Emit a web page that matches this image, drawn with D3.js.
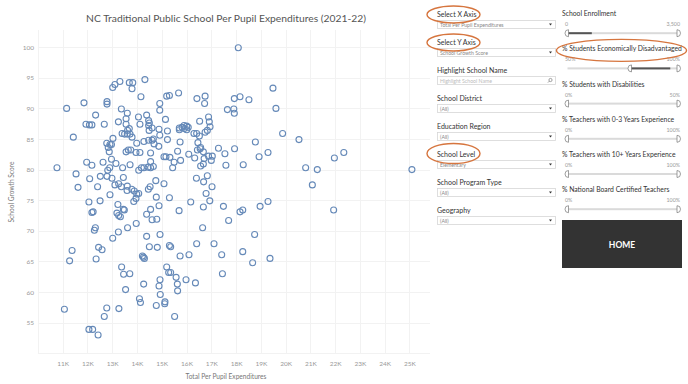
<!DOCTYPE html>
<html>
<head>
<meta charset="utf-8">
<script src="https://cdn.jsdelivr.net/npm/d3@7"></script>
<style>
body { margin: 0; background: #fff; }
text { font-family: Lato, "Open Sans", sans-serif; }
</style>
</head>
<body>
<svg id="chart" width="688" height="384"></svg>
<script>
// per pupil expenditures ($) and school growth score, one entry per school
var expenditures = [
  14320,13310,13110,13020,13690,13830,13800,14160,11860,11160,12790,12790,13370,14920,14920,15200,15310,15680,16420,16750,
  16730,17650,12330,13610,14060,14390,13560,13560,13250,11940,12080,12180,12680,14470,14500,14470,15150,14120,13690,13620,
  14610,13400,13500,13610,13720,13800,14890,14920,15230,14490,15710,15710,15820,15900,16010,16010,16070,15910,16530,16890,
  16920,16950,16840,16300,16410,16520,16750,11430,13030,13990,14280,14470,14610,14660,14690,15230,15740,14880,12780,12910,
  12970,12840,12880,13560,13650,13750,13960,14120,14550,16460,16570,16680,16440,16550,17290,17550,15640,16090,15090,15170,
  15330,15500,15440,16330,16710,16890,17040,17000,17590,16680,16570,15760,14550,12970,12630,11970,12180,13150,13420,13720,
  14070,14180,14280,14450,14550,14660,10770,11540,12900,12820,12790,12990,12520,12090,13450,14760,15090,16400,16840,16690,
  17030,11620,12410,13110,13260,13370,13610,13790,14460,14530,
  17930,18090,19490,18160,18520,17910,17930,19610,19880,20540,18780,17940,19290,18930,18290,20810,21280,21970,22350,25100,21080,
  13990,14070,13890,13600,12910,12510,12060,13870,13960,14780,15310,13230,13450,13490,14890,14550,15700,16170,16790,16940,
  16680,17490,12180,12230,13190,13260,13330,14390,14610,14800,13970,13620,12320,12280,17700,16650,13250,13020,14390,14930,
  14500,14820,15310,15360,16410,17110,11380,12450,12590,11280,12350,14220,14260,14300,15740,16100,17420,13380,13460,13710,
  15200,15280,15360,15580,14930,15980,16360,17450,14270,14890,15630,15640,13540,14940,14100,14140,15130,15120,14780,13270,
  12780,11070,12680,15520,12060,12210,12430,
  18970,19290,18160,18270,21940,18750,18270,18670,19370
];
var growthScores = [
  94.7,94.4,93.9,93.4,94.2,94.2,93.2,91.9,90.9,90.0,91.1,90.7,89.9,90.8,89.7,92.0,92.1,92.5,91.6,92.0,
  90.8,89.8,88.9,89.2,88.6,88.9,88.3,87.4,87.8,87.4,87.3,87.3,87.4,88.0,87.6,87.2,88.2,87.4,86.7,86.4,
  86.8,85.9,85.8,85.8,85.8,85.3,86.6,85.6,86.3,86.4,86.8,86.5,86.9,87.2,87.1,86.5,86.9,86.7,87.9,88.6,
  87.8,87.0,86.4,85.9,85.9,85.5,86.1,85.3,85.1,84.3,84.6,84.8,84.8,85.0,84.2,84.9,84.5,83.8,84.3,84.1,
  84.1,83.6,82.9,82.9,83.2,83.2,82.8,82.8,82.7,84.4,83.6,82.9,83.2,83.4,83.5,82.6,83.0,82.5,82.1,82.1,
  82.0,81.2,80.3,81.9,81.8,82.2,82.2,81.5,80.7,80.9,80.6,81.5,81.3,81.7,81.2,81.2,80.7,81.0,80.3,80.8,
  79.9,80.3,80.3,80.4,80.3,80.5,80.3,79.3,80.3,79.9,78.9,78.6,78.9,78.5,78.7,78.2,77.7,78.6,79.0,78.0,
  77.2,77.1,77.2,77.5,77.7,77.2,77.3,76.8,76.8,77.2,
  91.6,99.9,93.3,91.9,91.4,89.9,89.2,90.0,85.9,84.9,84.5,83.4,82.8,82.1,80.8,80.3,80.0,81.9,82.8,80.0,77.5,
  76.0,76.1,76.5,76.6,75.9,74.9,74.7,74.8,75.3,75.5,75.4,74.3,73.5,73.4,74.1,73.5,73.3,74.7,76.1,74.9,
  73.9,74.0,73.0,73.1,72.9,72.5,72.3,72.7,71.8,71.9,71.2,70.5,70.5,70.1,71.7,70.5,69.8,68.8,69.1,69.4,
  67.4,67.3,67.6,67.4,67.9,67.9,66.8,67.3,66.9,65.1,65.4,65.9,65.7,65.5,65.9,66.1,66.1,64.1,62.9,63.0,
  64.1,63.2,63.2,62.4,62.0,62.0,61.5,63.0,61.3,61.0,61.3,60.2,60.4,59.6,58.9,58.3,58.4,58.1,57.8,57.3,
  57.4,57.2,56.0,56.0,53.9,53.9,53.0,
  74.0,74.8,73.1,73.4,73.4,69.4,66.6,64.8,65.5
];
var xTicks = [11000,12000,13000,14000,15000,16000,17000,18000,19000,20000,21000,22000,23000,24000,25000];
var yTicks = [55,60,65,70,75,80,85,90,95,100];

var filterLabels = ["Select X Axis","Select Y Axis","Highlight School Name","School District","Education Region","School Level","School Program Type","Geography"];
var filterValues = ["Total Per Pupil Expenditures","School Growth Score","Highlight School Name","(All)","(All)","Elementary","(All)","(All)"];
var circledFilters = ["Select X Axis","Select Y Axis","School Level"];

var sliderTitles = ["School Enrollment","% Students Economically Disadvantaged","% Students with Disabilities","% Teachers with 0-3 Years Experience","% Teachers with 10+ Years Experience","% National Board Certified Teachers"];
var sliderMinLabels = ["0","50%","0%","0%","0%","0%"];
var sliderMaxLabels = ["3,500","100%","50%","100%","100%","100%"];
var sliderLow = [0,0.57,0,0,0,0];
var sliderHigh = [1,1,1,1,1,1];
var sliderShade = [[0,0.22],[0.57,0.93],null,null,null,null];

var data = expenditures.map(function(d, i){ return {x: d, y: growthScores[i]} })

var svg = d3.select("#chart")

var x = d3.scaleLinear().domain([10000, 25830]).range([37.9, 430])
var y = d3.scaleLinear().domain([50, 102.8]).range([353.3, 30])

// grid
var grid = svg.append('g')
grid.selectAll('.vg').data(d3.range(10000, 26000, 1000)).enter().append('line')
    .attr('x1', function(d){ return Math.round(x(d)) + 0.5 })
    .attr('x2', function(d){ return Math.round(x(d)) + 0.5 })
    .attr('y1', 30).attr('y2', 353)
    .attr('stroke', '#f2f2f2')
grid.selectAll('.hg').data(d3.range(50, 105, 5)).enter().append('line')
    .attr('y1', function(d){ return Math.round(y(d)) + 0.5 })
    .attr('y2', function(d){ return Math.round(y(d)) + 0.5 })
    .attr('x1', 37.9).attr('x2', 430)
    .attr('stroke', '#f2f2f2')

// axes
var xAxis = svg.append('g').attr('transform', 'translate(0,353)')
    .call(d3.axisBottom(x).tickValues(xTicks).tickSize(0).tickPadding(8)
        .tickFormat(function(d){ return (d / 1000) + 'K' }))
var yAxis = svg.append('g').attr('transform', 'translate(37,0)')
    .call(d3.axisLeft(y).tickValues(yTicks).tickSize(0).tickPadding(3))
svg.selectAll('.domain').remove()
svg.selectAll('.tick text').attr('fill', '#999').style('font-size', '6.5px').style('font-family', 'Lato, sans-serif')

svg.append('text').attr('x', 226).attr('y', 379).attr('text-anchor', 'middle')
    .attr('fill', '#777').style('font-size', '6.6px').text('Total Per Pupil Expenditures')
svg.append('text').attr('transform', 'translate(14,192) rotate(-90)').attr('text-anchor', 'middle')
    .attr('fill', '#777').style('font-size', '6.6px').text('School Growth Score')

svg.append('text').attr('x', 226).attr('y', 22).attr('text-anchor', 'middle')
    .attr('fill', '#555').style('font-size', '10.3px').text('NC Traditional Public School Per Pupil Expenditures (2021-22)')

// points
svg.append('g').selectAll('circle').data(data).enter().append('circle')
    .attr('cx', function(d){ return x(d.x) })
    .attr('cy', function(d){ return y(d.y) })
    .attr('r', 3)
    .attr('fill', 'none')
    .attr('stroke', '#6589b8')
    .attr('stroke-width', 1.1)

// left filter column
var filters = svg.append('g')
filterLabels.forEach(function(lbl, i){
    var cy = 14 + 28 * i
    filters.append('text').attr('x', 437).attr('y', cy + 2.5)
        .attr('fill', '#333').style('font-size', '7px').text(lbl)
    filters.append('rect').attr('x', 437.5).attr('y', cy + 6.5).attr('width', 118).attr('height', 8)
        .attr('fill', '#fff').attr('stroke', '#d6d6d6').attr('stroke-width', 0.8)
    filters.append('text').attr('x', 440).attr('y', cy + 12.6)
        .attr('fill', i == 2 ? '#bbb' : '#888').style('font-size', '5.2px').text(filterValues[i])
    if (i == 2) {
        filters.append('circle').attr('cx', 550.5).attr('cy', cy + 10).attr('r', 1.6)
            .attr('fill', 'none').attr('stroke', '#666').attr('stroke-width', 0.6)
        filters.append('line').attr('x1', 549.3).attr('y1', cy + 11.2).attr('x2', 548).attr('y2', cy + 12.5)
            .attr('stroke', '#666').attr('stroke-width', 0.7)
    } else {
        filters.append('path').attr('d', 'M549,' + (cy + 9.5) + 'l3,0l-1.5,2z').attr('fill', '#333')
    }
    if (circledFilters.indexOf(lbl) >= 0) {
        filters.append('ellipse').attr('cx', 453.5).attr('cy', cy + (i == 5 ? -0.5 : 0.5))
            .attr('rx', 26.5).attr('ry', i == 5 ? 10 : 8.5)
            .attr('fill', 'none').attr('stroke', '#d6753e').attr('stroke-width', 1.4)
    }
})

// right slider column
var sliders = svg.append('g')
var track = d3.scaleLinear().domain([0, 1]).range([567.5, 678])
sliderTitles.forEach(function(t, i){
    var cy = 13.7 + 35.2 * i
    sliders.append('text').attr('x', 562).attr('y', cy + 2.4)
        .attr('fill', '#333').style('font-size', '6.8px').text(t)
    sliders.append('text').attr('x', 565).attr('y', cy + 12.5)
        .attr('fill', '#999').style('font-size', '5.3px').text(sliderMinLabels[i])
    sliders.append('text').attr('x', 680).attr('y', cy + 12.5).attr('text-anchor', 'end')
        .attr('fill', '#999').style('font-size', '5.3px').text(sliderMaxLabels[i])
    var ty = cy + 19.5
    sliders.append('rect').attr('x', track(0)).attr('y', ty - 1).attr('width', track(1) - track(0)).attr('height', 2)
        .attr('fill', '#dadada')
    if (sliderShade[i]) {
        sliders.append('rect').attr('x', track(sliderShade[i][0])).attr('y', ty - 1)
            .attr('width', track(sliderShade[i][1]) - track(sliderShade[i][0])).attr('height', 2)
            .attr('fill', '#555')
    }
    var lx = track(sliderLow[i]), hx = track(sliderHigh[i])
    sliders.append('path').attr('d', 'M' + (lx + 1) + ',' + (ty - 3.5) + 'a3.5,3.5 0 0 0 0,7z')
        .attr('fill', '#fff').attr('stroke', '#777').attr('stroke-width', 0.7)
    sliders.append('path').attr('d', 'M' + (hx - 1) + ',' + (ty - 3.5) + 'a3.5,3.5 0 0 1 0,7z')
        .attr('fill', '#fff').attr('stroke', '#777').attr('stroke-width', 0.7)
    if (i == 1) {
        sliders.append('ellipse').attr('cx', 621.5).attr('cy', cy + 1.5).attr('rx', 65).attr('ry', 11)
            .attr('fill', 'none').attr('stroke', '#d6753e').attr('stroke-width', 1.4)
    }
})

// home button
svg.append('rect').attr('x', 562).attr('y', 220).attr('width', 120).attr('height', 48).attr('fill', '#333')
svg.append('text').attr('x', 622).attr('y', 248).attr('text-anchor', 'middle')
    .attr('fill', '#fff').style('font-size', '8.5px').style('font-weight', 'bold').text('HOME')
</script>
</body>
</html>
